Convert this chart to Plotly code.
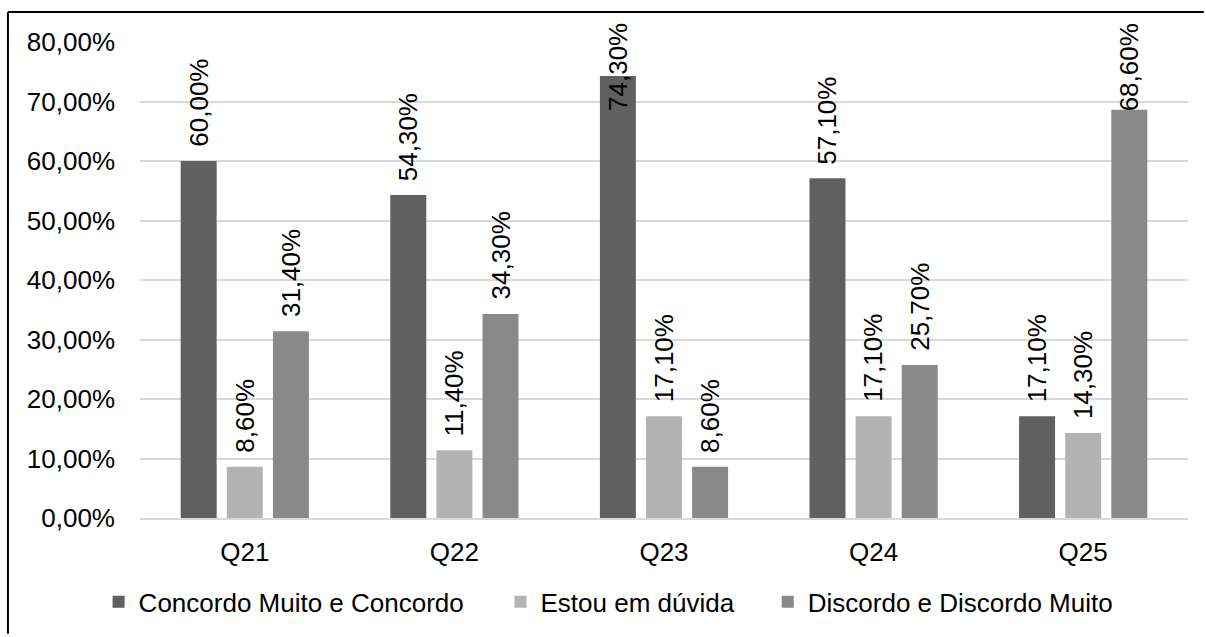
import plotly.graph_objects as go

categories = ["Q21", "Q22", "Q23", "Q24", "Q25"]
series_names = ["Concordo Muito e Concordo", "Estou em dúvida", "Discordo e Discordo Muito"]
concordo = [60.0, 54.3, 74.3, 57.1, 17.1]
duvida = [8.6, 11.4, 17.1, 17.1, 14.3]
discordo = [31.4, 34.3, 8.6, 25.7, 68.6]
colors = ["#606060", "#b3b3b3", "#898989"]

series = [concordo, duvida, discordo]
FONT = "Liberation Sans, Arial, sans-serif"
BARGAP = 0.34
legend_ids = ["legend", "legend2", "legend3"]
legend_x = [-0.0395, 0.3440, 0.5990]

fig = go.Figure()
for name, vals, col, lid in zip(series_names, series, colors, legend_ids):
    fig.add_trace(go.Bar(
        x=categories, y=[v / 100 for v in vals], name=name, legend=lid,
        marker=dict(color=col, line=dict(width=0)),
    ))

# data labels (rotated), kept inside the chart area like the original
slot = (1 - BARGAP) / len(series)
lab_font = dict(family=FONT, size=26, color="black")
annotations = []
for i, vals in enumerate(series):
    for j, v in enumerate(vals):
        txt = f"{v:.2f}%".replace(".", ",")
        xpos = j + (i - (len(series) - 1) / 2) * slot
        if v > 66:
            annotations.append(dict(x=xpos, y=1.044, xref="x", yref="paper", text=txt,
                                    textangle=-90, showarrow=False, yanchor="top",
                                    xanchor="center", font=lab_font))
        else:
            annotations.append(dict(x=xpos, y=v / 100, xref="x", yref="y", text=txt,
                                    textangle=-90, showarrow=False, yanchor="bottom", yshift=12,
                                    xanchor="center", font=lab_font))

leg_common = dict(orientation="h", y=-0.176, yanchor="middle", xanchor="left",
                  font=dict(family=FONT, size=26, color="black"), itemwidth=30,
                  bgcolor="rgba(0,0,0,0)")

border = dict(color="black", width=2)
fig.update_layout(
    width=1206, height=637,
    margin=dict(l=140, r=18, t=42, b=117),
    paper_bgcolor="white", plot_bgcolor="white",
    barmode="group", bargap=BARGAP, bargroupgap=0.22,
    separators=",.",
    font=dict(family=FONT, size=26, color="black"),
    showlegend=True,
    legend=dict(x=legend_x[0], **leg_common),
    legend2=dict(x=legend_x[1], **leg_common),
    legend3=dict(x=legend_x[2], **leg_common),
    annotations=annotations,
    shapes=[
        dict(type="line", xref="paper", yref="paper", x0=-0.126, x1=-0.126, y0=-0.243, y1=1.0628,
             line=border, layer="above"),
        dict(type="line", xref="paper", yref="paper", x0=-0.126, x1=1.015, y0=1.0628, y1=1.0628,
             line=border, layer="above"),
    ],
)
fig.update_yaxes(range=[0, 0.8], dtick=0.1, tickformat=".2%", showgrid=True,
                 gridcolor="#d9d9d9", gridwidth=2, zeroline=False, showline=False,
                 ticks="", ticklabelstandoff=24, tickfont=dict(family=FONT, size=26, color="black"))
fig.update_xaxes(showline=True, linecolor="#d9d9d9", linewidth=2, ticks="",
                 ticklabelstandoff=10, tickfont=dict(family=FONT, size=26, color="black"))

fig.write_html(
    "out.html",
    config={"displayModeBar": False},
    post_script="document.body.style.margin='0';document.body.style.overflow='hidden';",
)
